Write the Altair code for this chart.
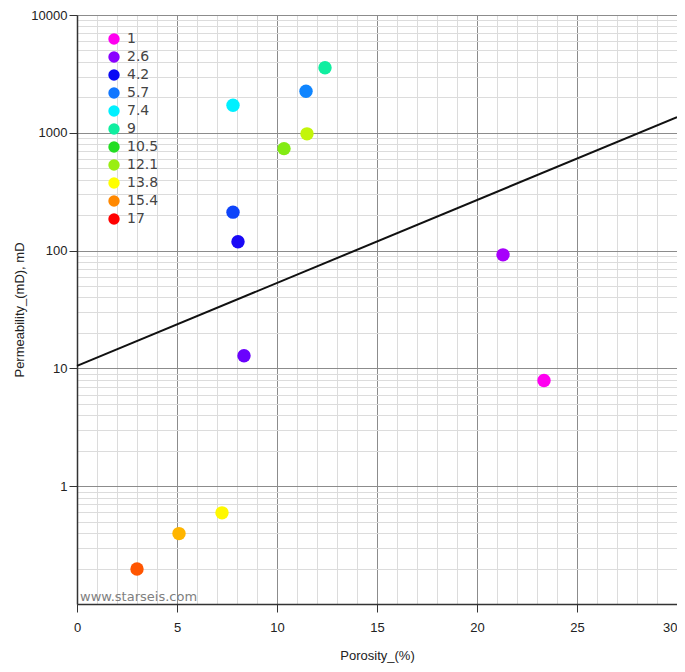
import altair as alt
import pandas as pd

# Data
porosity = [23.35, 21.3, 8.35, 8.05, 7.8, 7.8, 11.45, 12.4, 10.35, 11.5, 7.25, 5.1, 3.0]
permeability = [7.9, 92, 12.8, 119, 212, 1716, 2250, 3570, 734, 980, 0.594, 0.396, 0.198]
color_value = [1.0, 2.2, 3.0, 4.0, 5.0, 7.4, 5.9, 9.0, 11.8, 12.8, 13.9, 14.8, 16.0]

legend_values = [1, 2.6, 4.2, 5.7, 7.4, 9, 10.5, 12.1, 13.8, 15.4, 17]
legend_colors = ["#ff00f0", "#8a00ff", "#0a0af5", "#1177ff", "#00f0ff", "#10eea0",
                 "#22dd22", "#99ee11", "#ffff00", "#ff8800", "#ff0000"]

line_porosity = [0, 30]
line_permeability = [10.5, 1360]

x_ticks = list(range(0, 31))
y_ticks = sorted({round(m * d, 6) for d in [0.1, 1, 10, 100, 1000] for m in range(1, 10)} | {10000})

pts = pd.DataFrame({"por": porosity, "perm": permeability, "val": color_value})
line_df = pd.DataFrame({"por": line_porosity, "perm": line_permeability})
wm = pd.DataFrame({"t": ["www.starseis.com"]})

x_major = "datum.value % 5 === 0"
y_major = "indexof([0.1,1,10,100,1000,10000], datum.value) >= 0"
y_labeled = "indexof([1,10,100,1000,10000], datum.value) >= 0"

x_scale = alt.Scale(domain=[0, 30], nice=False, zero=False)
y_scale = alt.Scale(type="log", domain=[0.1, 10000], nice=False)


def x_axis():
    return alt.Axis(
        values=x_ticks, title="Porosity_(%)",
        labelExpr=f"({x_major}) ? format(datum.value, 'd') : ''",
        labelOverlap=False, labelFlush=False,
        labelAlign={"condition": {"test": "datum.value === 30", "value": "right"}, "value": "center"},
        gridColor={"condition": {"test": x_major, "value": "#8c8c8c"}, "value": "#dcdcdc"},
        tickOpacity={"condition": {"test": x_major, "value": 1}, "value": 0},
        tickSize=8, labelPadding=9, titlePadding=15,
    )


def y_axis():
    return alt.Axis(
        values=y_ticks, title="Permeability_(mD), mD",
        labelExpr=f"({y_labeled}) ? format(datum.value, 'd') : ''",
        labelOverlap=False,
        gridColor={"condition": {"test": y_major, "value": "#8c8c8c"}, "value": "#dcdcdc"},
        tickOpacity={"condition": {"test": y_labeled, "value": 1}, "value": 0},
        tickSize=8, labelPadding=2, titlePadding=4,
    )


points = alt.Chart(pts).mark_circle(size=180, opacity=1).encode(
    x=alt.X("por:Q", scale=x_scale, axis=x_axis()),
    y=alt.Y("perm:Q", scale=y_scale, axis=y_axis()),
    color=alt.Color(
        "val:Q",
        scale=alt.Scale(type="linear", domain=legend_values, range=legend_colors, interpolate="rgb"),
        legend=alt.Legend(
            type="symbol", values=legend_values, title=None, orient="none",
            labelExpr="'' + datum.value",
            legendX=30, legendY=17, symbolType="circle", symbolSize=130,
            symbolStrokeWidth=0, labelFont="DejaVu Sans", labelFontSize=14,
            labelColor="#444444", labelOffset=6, rowPadding=4, padding=0,
        ),
    ),
)

line = alt.Chart(line_df).mark_line(color="#111111", strokeWidth=2).encode(
    x=alt.X("por:Q", scale=x_scale, axis=x_axis()),
    y=alt.Y("perm:Q", scale=y_scale, axis=y_axis()),
)

watermark = alt.Chart(wm).mark_text(
    align="left", baseline="alphabetic", fontSize=13, color="#808080", font="DejaVu Sans"
).encode(text="t:N", x=alt.value(3), y=alt.value(586))

chart = alt.layer(line, points, watermark).properties(
    width=600, height=589,
    autosize=alt.AutoSizeParams(type="none"),
    padding={"left": 69, "top": 7, "right": 0, "bottom": 60},
).configure_view(stroke=None).configure_axis(
    labelFont="Liberation Sans", labelFontSize=13, labelColor="#222222",
    titleFont="Liberation Sans", titleFontSize=13, titleFontWeight="normal", titleColor="#222222",
    domainColor="#333333", domainWidth=1.5, tickColor="#333333", gridWidth=1,
)

chart.save("out.html", embed_options={"renderer": "svg", "actions": False})
